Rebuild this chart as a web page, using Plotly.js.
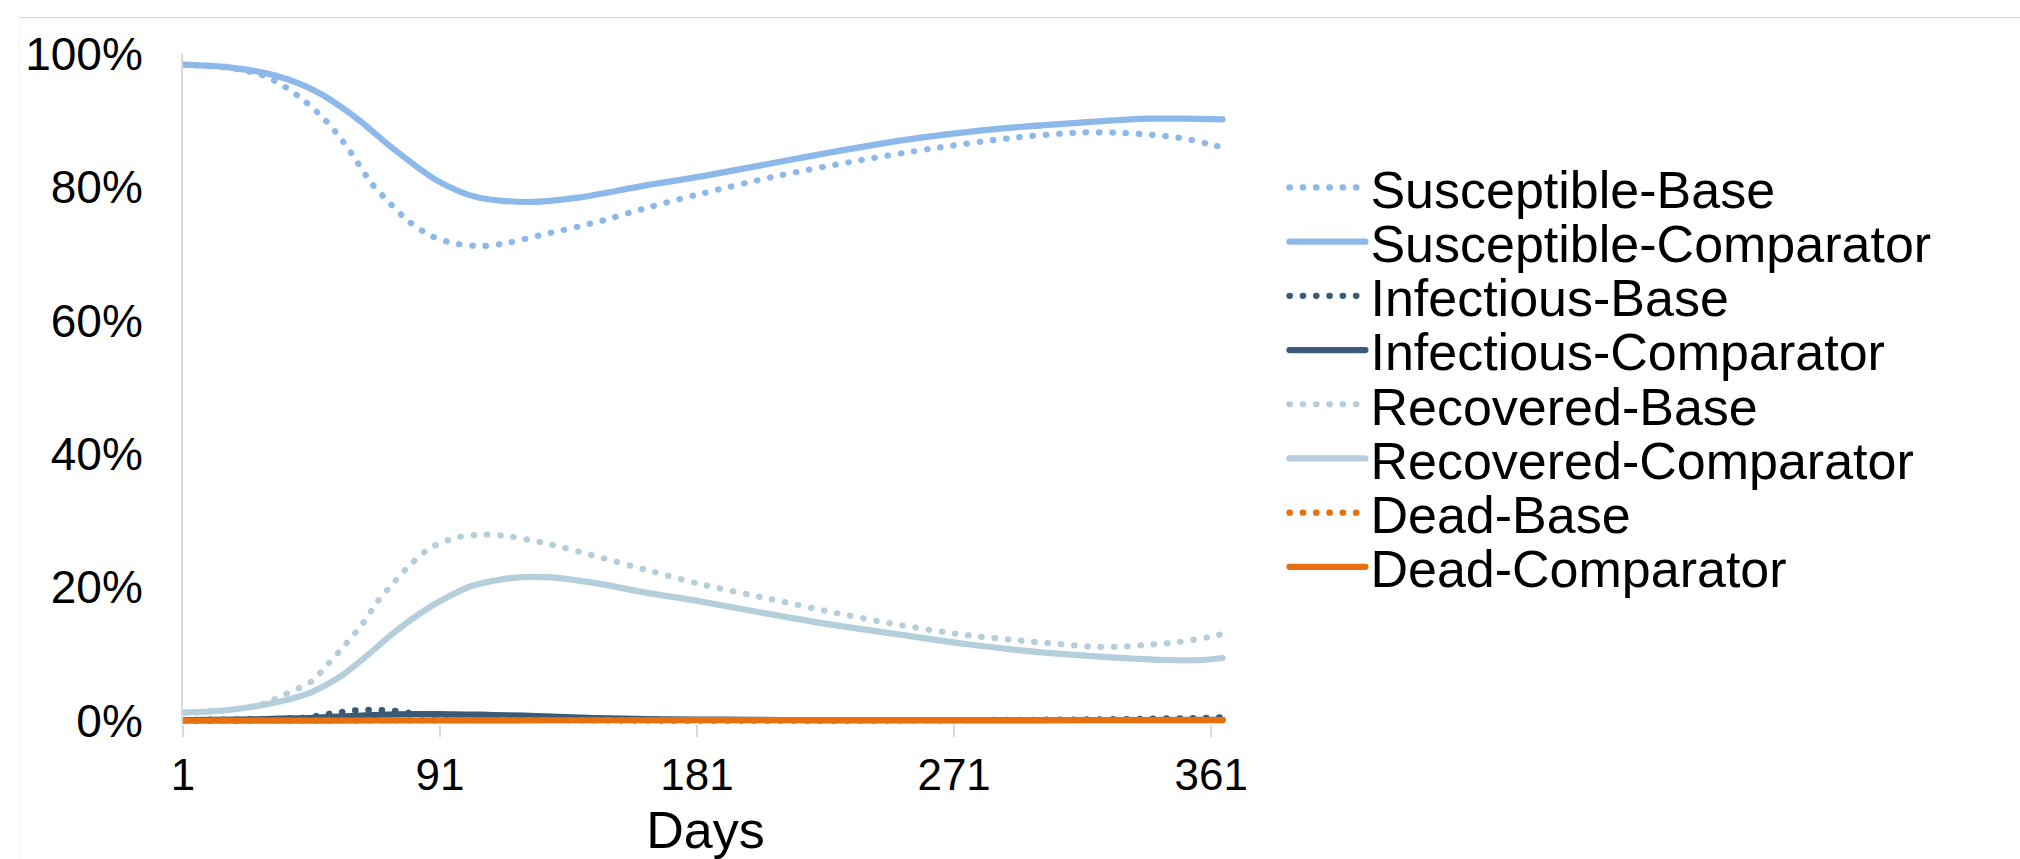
<!DOCTYPE html>
<html>
<head>
<meta charset="utf-8">
<script src="https://cdn.plot.ly/plotly-3.0.1.min.js"></script>
<style>
html, body { margin: 0; padding: 0; background: #ffffff; }
#chart { width: 2020px; height: 859px; }
#frame { position: absolute; left: 19px; top: 17px; right: 0; bottom: 0;
         border-top: 1.5px solid #d4d4d4; border-left: 1px solid #f0f0f0; pointer-events: none; }
.js-line { stroke-linecap: round; }
</style>
</head>
<body>
<div id="chart"></div>
<div id="frame"></div>
<script>
// ---------- data ----------
const seriesNames = [
  'Susceptible-Base', 'Susceptible-Comparator',
  'Infectious-Base', 'Infectious-Comparator',
  'Recovered-Base', 'Recovered-Comparator',
  'Dead-Base', 'Dead-Comparator'
];

const tickDays = [1, 91, 181, 271, 361];
const tickLabels = ['1', '91', '181', '271', '361'];
const yTickVals = [0, 0.2, 0.4, 0.6, 0.8, 1.0];

const susBaseDays = [1, 17, 29, 37, 44, 51, 57, 62, 67, 73, 80, 88, 96, 106, 115, 128, 146, 164, 182, 209, 236, 263, 291, 314, 328, 342, 352, 360, 365];
const susBaseVals = [0.984, 0.979, 0.968, 0.950, 0.928, 0.900, 0.869, 0.838, 0.806, 0.778, 0.749, 0.727, 0.716, 0.712, 0.717, 0.730, 0.748, 0.770, 0.790, 0.817, 0.839, 0.858, 0.874, 0.882, 0.882, 0.878, 0.873, 0.865, 0.860];

const susCompDays = [1, 17, 33, 48, 62, 74, 90, 104, 122, 140, 163, 182, 217, 252, 287, 322, 339, 352, 365];
const susCompVals = [0.984, 0.980, 0.968, 0.943, 0.903, 0.860, 0.810, 0.785, 0.778, 0.785, 0.803, 0.816, 0.844, 0.870, 0.888, 0.899, 0.903, 0.903, 0.902];

const infBaseDays = [1, 20, 35, 45, 50, 55, 60, 65, 70, 75, 80, 85, 90, 100, 110, 120, 140, 170, 210, 250, 290, 320, 340, 355, 365];
const infBaseVals = [0.001, 0.002, 0.003, 0.005, 0.009, 0.012, 0.015, 0.016, 0.016, 0.015, 0.012, 0.009, 0.007, 0.004, 0.0025, 0.0015, 0.0008, 0.0004, 0.0003, 0.0006, 0.0012, 0.002, 0.003, 0.004, 0.005];

const infCompDays = [1, 20, 35, 45, 55, 65, 75, 85, 95, 105, 115, 125, 135, 145, 155, 170, 190, 210, 240, 280, 320, 365];
const infCompVals = [0.001, 0.0015, 0.003, 0.004, 0.006, 0.008, 0.0095, 0.010, 0.0095, 0.009, 0.008, 0.007, 0.0055, 0.004, 0.003, 0.002, 0.0015, 0.001, 0.0008, 0.0008, 0.001, 0.0012];

const recBaseDays = [1, 17, 29, 37, 46, 52, 58, 64, 69, 75, 81, 88, 97, 106, 116, 129, 147, 165, 182, 206, 228, 250, 274, 297, 320, 329, 339, 348, 361, 365];
const recBaseVals = [0.012, 0.016, 0.025, 0.040, 0.059, 0.086, 0.115, 0.146, 0.178, 0.208, 0.236, 0.260, 0.275, 0.279, 0.276, 0.265, 0.245, 0.224, 0.205, 0.183, 0.163, 0.145, 0.129, 0.119, 0.111, 0.111, 0.114, 0.117, 0.126, 0.130];

const recCompDays = [1, 17, 33, 45, 56, 65, 74, 84, 93, 102, 116, 130, 146, 163, 182, 205, 228, 252, 275, 298, 322, 345, 358, 365];
const recCompVals = [0.012, 0.016, 0.027, 0.041, 0.066, 0.096, 0.129, 0.161, 0.184, 0.202, 0.214, 0.215, 0.206, 0.192, 0.179, 0.161, 0.144, 0.129, 0.115, 0.104, 0.096, 0.091, 0.091, 0.094];

const deadBaseDays = [1, 50, 90, 130, 180, 250, 300, 365];
const deadBaseVals = [0, 0.0002, 0.0006, 0.0008, 0.0009, 0.0009, 0.001, 0.001];

const deadCompDays = [1, 50, 90, 130, 180, 250, 300, 365];
const deadCompVals = [0, 0.0001, 0.0004, 0.0006, 0.0007, 0.0008, 0.0008, 0.0008];

// ---------- styles ----------
const colSus = '#8cb8ea';
const colInf = '#3a5a76';
const colRec = '#b5cedb';
const colDead = '#e8700e';
const LINE_W = 6.2;
const DOTS = '0.5px,12.8px';

function mk(name, x, y, color, dotted) {
  return {
    type: 'scatter', mode: 'lines', name: name, x: x, y: y,
    line: { color: color, width: LINE_W, dash: dotted ? DOTS : 'solid', shape: 'spline', smoothing: 0.8 },
    hoverinfo: 'skip'
  };
}

const traces = [
  mk(seriesNames[0], susBaseDays, susBaseVals, colSus, true),
  mk(seriesNames[1], susCompDays, susCompVals, colSus, false),
  mk(seriesNames[2], infBaseDays, infBaseVals, colInf, true),
  mk(seriesNames[3], infCompDays, infCompVals, colInf, false),
  mk(seriesNames[4], recBaseDays, recBaseVals, colRec, true),
  mk(seriesNames[5], recCompDays, recCompVals, colRec, false),
  mk(seriesNames[6], deadBaseDays, deadBaseVals, colDead, true),
  mk(seriesNames[7], deadCompDays, deadCompVals, colDead, false)
];

const FONT = '"Liberation Sans", Arial, Helvetica, sans-serif';

const layout = {
  width: 2020, height: 859,
  margin: { l: 183, r: 792, t: 54, b: 135, pad: 0 },
  paper_bgcolor: '#ffffff', plot_bgcolor: 'rgba(0,0,0,0)',
  font: { family: FONT, color: '#000000' },
  showlegend: true,
  xaxis: {
    range: [1, 366.9],
    tickmode: 'array', tickvals: tickDays, ticktext: tickLabels,
    ticks: 'outside', ticklen: 12, tickwidth: 2, tickcolor: '#d9d9d9',
    showgrid: false, zeroline: false, showline: false,
    tickfont: { size: 44, color: '#000000' },
    ticklabelstandoff: 0,
    title: { text: 'Days', font: { size: 52, color: '#000000' }, standoff: 40 }
  },
  yaxis: {
    range: [-0.005, 1.0],
    tickmode: 'array', tickvals: yTickVals, tickformat: '.0%',
    ticks: '', showgrid: false, zeroline: false,
    showline: true, linecolor: '#d9d9d9', linewidth: 2,
    tickfont: { size: 46, color: '#000000' },
    ticklabelstandoff: 29
  },
  legend: {
    x: 1.054, xanchor: 'left', y: 0.861, yanchor: 'top',
    font: { size: 52, color: '#000000', family: FONT },
    itemwidth: 76, bgcolor: 'rgba(0,0,0,0)', borderwidth: 0, tracegroupgap: 0
  }
};

const ROW_GAP = 54.2;

Plotly.newPlot('chart', traces, layout, { staticPlot: true, displayModeBar: false }).then(function (gd) {
  const items = gd.querySelectorAll('.legend .traces');
  let y0 = null;
  items.forEach(function (el, i) {
    const t = el.getAttribute('transform') || '';
    const m = /translate\(\s*([-\d.e]+)[\s,]+([-\d.e]+)\s*\)/.exec(t);
    if (!m) return;
    if (y0 === null) y0 = parseFloat(m[2]);
    el.setAttribute('transform', 'translate(' + m[1] + ',' + (y0 + i * ROW_GAP) + ')');
  });
});
</script>
</body>
</html>
